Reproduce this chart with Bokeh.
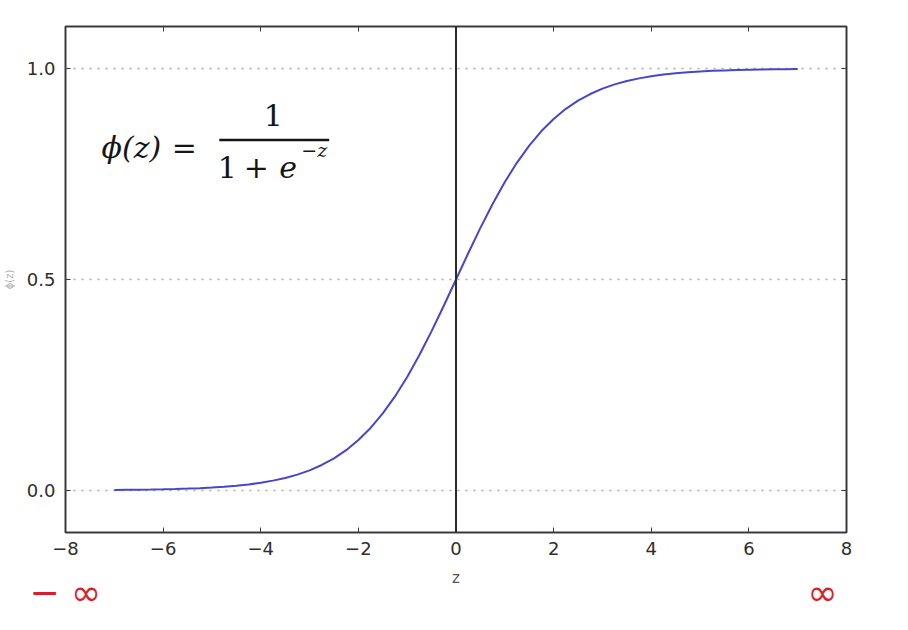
from bokeh.plotting import figure
from bokeh.models import Range1d, LinearAxis, Span, Label, FixedTicker, CustomJSTickFormatter
from bokeh.embed import file_html
from bokeh.resources import INLINE

# ---- data ----
z_vals = [-7.0, -6.75, -6.5, -6.25, -6.0, -5.75, -5.5, -5.25, -5.0, -4.75, -4.5, -4.25,
          -4.0, -3.75, -3.5, -3.25, -3.0, -2.75, -2.5, -2.25, -2.0, -1.75, -1.5, -1.25,
          -1.0, -0.75, -0.5, -0.25, 0.0, 0.25, 0.5, 0.75, 1.0, 1.25, 1.5, 1.75, 2.0,
          2.25, 2.5, 2.75, 3.0, 3.25, 3.5, 3.75, 4.0, 4.25, 4.5, 4.75, 5.0, 5.25, 5.5,
          5.75, 6.0, 6.25, 6.5, 6.75, 7.0]
phi_vals = [0.0009, 0.0012, 0.0015, 0.0019, 0.0025, 0.0032, 0.0041, 0.0052, 0.0067, 0.0086,
            0.0110, 0.0141, 0.0180, 0.0230, 0.0293, 0.0373, 0.0474, 0.0601, 0.0759, 0.0953,
            0.1192, 0.1480, 0.1824, 0.2227, 0.2689, 0.3208, 0.3775, 0.4378, 0.5000, 0.5622,
            0.6225, 0.6792, 0.7311, 0.7773, 0.8176, 0.8520, 0.8808, 0.9047, 0.9241, 0.9399,
            0.9526, 0.9627, 0.9707, 0.9770, 0.9820, 0.9859, 0.9890, 0.9914, 0.9933, 0.9948,
            0.9959, 0.9968, 0.9975, 0.9981, 0.9985, 0.9988, 0.9991]
x_ticks = [-8, -6, -4, -2, 0, 2, 4, 6, 8]
x_tick_labels = ["\u22128", "\u22126", "\u22124", "\u22122", "0", "2", "4", "6", "8"]
y_ticks = [0.0, 0.5, 1.0]
y_tick_labels = ["0.0", "0.5", "1.0"]

TXT = "#2e2e2e"
FRAME = "#3a3a3a"

p = figure(width=890, height=630, output_backend="svg", toolbar_location=None,
           x_range=Range1d(-8, 8), y_range=Range1d(-0.1, 1.1),
           min_border_left=64, min_border_right=44, min_border_top=26, min_border_bottom=97,
           background_fill_color="white", border_fill_color="white")
p.outline_line_color = FRAME
p.outline_line_width = 2

def style_axis(ax, ticks, labels, show_labels=True):
    ax.ticker = FixedTicker(ticks=ticks)
    ax.axis_line_color = None
    ax.major_tick_in = 5
    ax.major_tick_out = 0
    ax.major_tick_line_color = FRAME
    ax.major_tick_line_width = 1
    ax.minor_tick_line_color = None
    if show_labels:
        ax.major_label_overrides = {t: l for t, l in zip(ticks, labels)}
        ax.major_label_text_font = "DejaVu Sans"
        ax.major_label_text_font_size = "18px"
        ax.major_label_text_color = TXT
    else:
        ax.formatter = CustomJSTickFormatter(code="return ''")
        ax.major_label_text_font_size = "1px"
        ax.major_label_standoff = 0

style_axis(p.xaxis[0], x_ticks, x_tick_labels)
style_axis(p.yaxis[0], y_ticks, y_tick_labels)
p.xaxis[0].major_label_standoff = 9
p.xaxis[0].axis_label = "z"
p.xaxis[0].axis_label_text_font = "DejaVu Sans"
p.xaxis[0].axis_label_text_font_style = "normal"
p.xaxis[0].axis_label_text_font_size = "15px"
p.xaxis[0].axis_label_text_color = "#555555"
p.xaxis[0].axis_label_standoff = 11
p.yaxis[0].major_label_standoff = 10
p.yaxis[0].axis_label = "\u03d5(z)"
p.yaxis[0].axis_label_text_font = "DejaVu Sans"
p.yaxis[0].axis_label_text_font_style = "normal"
p.yaxis[0].axis_label_text_font_size = "10px"
p.yaxis[0].axis_label_text_color = "#b0b0b0"
p.yaxis[0].axis_label_standoff = 9

top = LinearAxis()
style_axis(top, x_ticks, x_tick_labels, show_labels=False)
p.add_layout(top, "above")
right = LinearAxis()
style_axis(right, y_ticks, y_tick_labels, show_labels=False)
p.add_layout(right, "right")

p.xgrid.visible = False
p.ygrid.ticker = FixedTicker(ticks=y_ticks)
p.ygrid.grid_line_color = "#a8a8a8"
p.ygrid.grid_line_dash = "2 6"
p.ygrid.grid_line_width = 1.5

p.add_layout(Span(location=0, dimension="height", line_color="#2a2a2a", line_width=2))

p.line(z_vals, phi_vals, line_color="#4646c8", line_width=2)

# formula
FF = "DejaVu Serif"
INK = "#151515"
def make_label(x, y, text, size, italic=False, align="left", color=INK, font=FF):
    return Label(x=x, y=y, text=text, text_font=font, text_font_size=size,
                 text_font_style="italic" if italic else "normal",
                 text_color=color, text_baseline="middle", text_align=align)

p.add_layout(make_label(-7.263, 0.812, "\u03d5(z)", "30px", italic=True))
p.add_layout(make_label(-5.565, 0.812, "=", "30px", align="center"))
p.add_layout(make_label(-3.744, 0.891, "1", "30px", align="center"))
p.segment(x0=[-4.849], y0=[0.831], x1=[-2.598], y1=[0.831], line_color=INK, line_width=2.5)
p.add_layout(make_label(-4.685, 0.767, "1", "30px", align="center"))
p.add_layout(make_label(-4.092, 0.767, "+", "30px", align="center"))
p.add_layout(make_label(-3.437, 0.767, "e", "30px", italic=True, align="center"))
p.add_layout(make_label(-3.171, 0.808, "\u2212z", "19px", italic=True))

# handwritten annotations outside the frame (side panels, so not clipped to the frame)
RED = "#d8202a"
p.add_layout(make_label(-8.74, -0.242, "\u2212 \u221e", "36px", color=RED, font="DejaVu Sans"), "below")
p.add_layout(make_label(7.51, -0.242, "\u221e", "36px", color=RED, align="center", font="DejaVu Sans"), "right")

open("out.html", "w").write(file_html(p, INLINE))
